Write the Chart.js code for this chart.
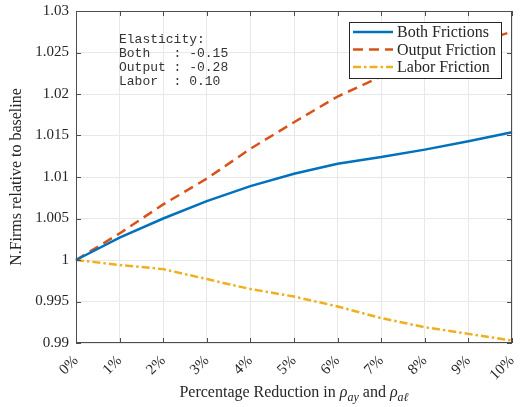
<!DOCTYPE html>
<html>
<head>
<meta charset="utf-8">
<script src="https://cdn.jsdelivr.net/npm/chart.js@4.4.0/dist/chart.umd.min.js"></script>
<style>
  html, body { margin: 0; padding: 0; background: #fff; }
  #wrap { width: 521px; height: 407px; }
</style>
</head>
<body>
<div id="wrap"><canvas id="firmsChart" width="521" height="407"></canvas></div>
<script>
// data
const xLabels = ['0%', '1%', '2%', '3%', '4%', '5%', '6%', '7%', '8%', '9%', '10%'];
const bothFrictions = [1.0, 1.0027, 1.0050, 1.0071, 1.0089, 1.0104, 1.0116, 1.0124, 1.0133, 1.0143, 1.0154];
const outputFriction = [1.0, 1.0032, 1.0067, 1.0098, 1.0134, 1.0166, 1.0197, 1.0221, 1.0241, 1.0259, 1.0275];
const laborFriction = [1.0, 0.9994, 0.9989, 0.9977, 0.9965, 0.9956, 0.9944, 0.9930, 0.9919, 0.9911, 0.9903];
const seriesNames = ['Both Frictions', 'Output Friction', 'Labor Friction'];
const yMin = 0.99, yMax = 1.03, yStep = 0.005;
const elasticityLines = ['Elasticity:', 'Both   : -0.15', 'Output : -0.28', 'Labor  : 0.10'];

const serif = "'Liberation Serif', 'DejaVu Serif', serif";
const axisColor = '#262626';

// MATLAB-like box, inward ticks, legend, note and x title
const matlabAxes = {
    id: 'matlabAxes',
    afterDraw(chart) {
        const { ctx, chartArea: a, scales: { x, y } } = chart;
        ctx.save();
        ctx.strokeStyle = '#4d4d4d';
        ctx.lineWidth = 1;
        ctx.strokeRect(a.left + 0.5, a.top + 0.5, a.width - 1, a.height - 1);

        // inward ticks
        const tl = 5;
        ctx.beginPath();
        x.ticks.forEach((t, i) => {
            const px = Math.round(x.getPixelForTick(i)) + 0.5;
            ctx.moveTo(px, a.bottom); ctx.lineTo(px, a.bottom - tl);
            ctx.moveTo(px, a.top); ctx.lineTo(px, a.top + tl);
        });
        y.ticks.forEach(t => {
            const py = Math.round(y.getPixelForValue(t.value)) + 0.5;
            ctx.moveTo(a.left, py); ctx.lineTo(a.left + tl, py);
            ctx.moveTo(a.right, py); ctx.lineTo(a.right - tl, py);
        });
        ctx.stroke();

        // legend box (top right, inside axes)
        const lx = a.left + 273, ly = a.top + 11, lw = 152, lh = 56;
        ctx.fillStyle = '#fff';
        ctx.fillRect(lx, ly, lw, lh);
        ctx.strokeStyle = axisColor;
        ctx.strokeRect(lx + 0.5, ly + 0.5, lw, lh);
        ctx.font = '16px ' + serif;
        ctx.textBaseline = 'middle';
        ctx.textAlign = 'left';
        chart.data.datasets.forEach((ds, i) => {
            const ry = ly + 10 + i * 17.5;
            ctx.save();
            ctx.strokeStyle = ds.borderColor;
            ctx.lineWidth = ds.borderWidth;
            ctx.setLineDash(ds.borderDash || []);
            ctx.beginPath();
            ctx.moveTo(lx + 4, ry);
            ctx.lineTo(lx + 44, ry);
            ctx.stroke();
            ctx.restore();
            ctx.fillStyle = axisColor;
            ctx.fillText(ds.label, lx + 48, ry + 1);
        });

        // elasticity note
        ctx.font = '13px "Liberation Mono", "DejaVu Sans Mono", monospace';
        ctx.fillStyle = '#333';
        ctx.textBaseline = 'middle';
        elasticityLines.forEach((line, i) => {
            ctx.fillText(line, a.left + 43, a.top + 28.5 + i * 14.1);
        });

        // x title with subscripts
        const parts = [
            { t: 'Percentage Reduction in ', f: '16px ' + serif, dy: 0 },
            { t: 'ρ', f: 'italic 16px ' + serif, dy: 0 },
            { t: 'ay', f: 'italic 12px ' + serif, dy: 4 },
            { t: ' and ', f: '16px ' + serif, dy: 0 },
            { t: 'ρ', f: 'italic 16px ' + serif, dy: 0 },
            { t: 'aℓ', f: 'italic 12px ' + serif, dy: 4 }
        ];
        let total = 0;
        parts.forEach(p => { ctx.font = p.f; p.w = ctx.measureText(p.t).width; total += p.w; });
        let cx = (a.left + a.right) / 2 - total / 2;
        const baseY = 397;
        ctx.textBaseline = 'alphabetic';
        ctx.fillStyle = axisColor;
        parts.forEach(p => {
            ctx.font = p.f;
            ctx.fillText(p.t, cx, baseY + p.dy);
            cx += p.w;
        });
        ctx.restore();
    }
};

const ctx = document.getElementById('firmsChart').getContext('2d');
const chart = new Chart(ctx, {
    type: 'line',
    data: {
        labels: xLabels,
        datasets: [{
            label: seriesNames[0],
            data: bothFrictions,
            borderColor: '#0072BD',
            borderWidth: 2.5,
            pointRadius: 0,
            tension: 0,
            fill: false
        }, {
            label: seriesNames[1],
            data: outputFriction,
            borderColor: '#D95319',
            borderWidth: 2.5,
            borderDash: [10, 6],
            pointRadius: 0,
            tension: 0,
            fill: false
        }, {
            label: seriesNames[2],
            data: laborFriction,
            borderColor: '#EDB120',
            borderWidth: 2.5,
            borderDash: [8, 3, 2.5, 3],
            pointRadius: 0,
            tension: 0,
            fill: false
        }]
    },
    options: {
        responsive: false,
        animation: false,
        layout: {
            padding: { top: 11, right: 9, left: 0, bottom: 0 }
        },
        plugins: {
            legend: { display: false },
            tooltip: { enabled: false }
        },
        scales: {
            x: {
                offset: false,
                grid: { color: '#e8e8e8', drawTicks: false },
                border: { display: false },
                ticks: {
                    maxRotation: 45,
                    minRotation: 45,
                    autoSkip: false,
                    padding: 9,
                    color: axisColor,
                    font: { family: serif, size: 15 }
                },
                afterFit: (scale) => {
                    scale.height = 64;
                    scale.paddingLeft = 0;
                    scale.paddingRight = 0;
                }
            },
            y: {
                min: yMin,
                max: yMax,
                grid: { color: '#e8e8e8', drawTicks: false },
                border: { display: false },
                ticks: {
                    stepSize: yStep,
                    padding: 7,
                    color: axisColor,
                    font: { family: serif, size: 15 },
                    callback: (v) => parseFloat(v.toFixed(3)).toString()
                },
                title: {
                    display: true,
                    text: 'N.Firms relative to baseline',
                    color: axisColor,
                    font: { family: serif, size: 16 },
                    padding: { top: 7, bottom: 0 }
                },
                afterFit: (scale) => {
                    scale.width = 76;
                    scale.paddingTop = 0;
                    scale.paddingBottom = 0;
                }
            }
        }
    },
    plugins: [matlabAxes]
});
</script>
</body>
</html>
